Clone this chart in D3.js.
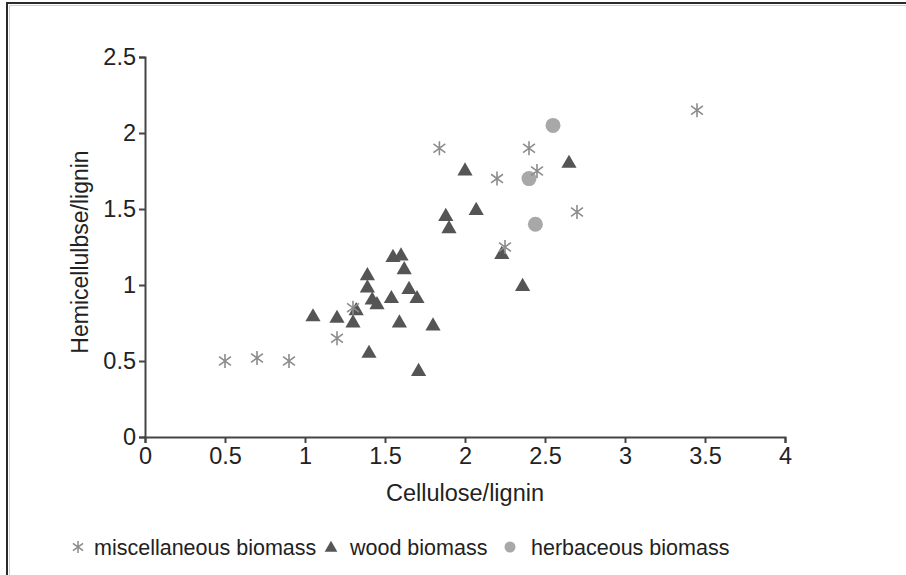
<!DOCTYPE html>
<html>
<head>
<meta charset="utf-8">
<script src="https://cdn.jsdelivr.net/npm/d3@7"></script>
<style>
  body { margin: 0; background: #fff; }
  svg text { font-family: "Liberation Sans", Arial, Helvetica, sans-serif; fill: #222; }
</style>
</head>
<body>
<div id="chart"></div>
<script>
// data: [cellulose/lignin, hemicellulose/lignin]
let miscBiomass = [
  [0.5, 0.5], [0.7, 0.52], [0.9, 0.5], [1.2, 0.65], [1.3, 0.85],
  [1.84, 1.9], [2.2, 1.7], [2.4, 1.9], [2.45, 1.75], [2.25, 1.25],
  [2.7, 1.48], [3.45, 2.15]
]
let woodBiomass = [
  [1.05, 0.79], [1.2, 0.78], [1.3, 0.75], [1.32, 0.83], [1.39, 1.06],
  [1.39, 0.98], [1.42, 0.9], [1.45, 0.87], [1.54, 0.91], [1.55, 1.18],
  [1.6, 1.19], [1.62, 1.1], [1.65, 0.97], [1.7, 0.91], [1.59, 0.75],
  [1.8, 0.73], [1.4, 0.55], [1.71, 0.43], [2.0, 1.75], [2.07, 1.49],
  [1.88, 1.45], [1.9, 1.37], [2.65, 1.8], [2.23, 1.2], [2.36, 0.99]
]
let herbaceousBiomass = [[2.55, 2.05], [2.4, 1.7], [2.44, 1.4]]

let xTicks = [0, 0.5, 1, 1.5, 2, 2.5, 3, 3.5, 4]
let yTicks = [0, 0.5, 1, 1.5, 2, 2.5]
let legendLabels = ['miscellaneous biomass', 'wood biomass', 'herbaceous biomass']

let totalWidth = 906
let totalHeight = 575
let margin = { top: 57, left: 145, right: 121, bottom: 138 }
let height = totalHeight - margin.top - margin.bottom
let width = totalWidth - margin.left - margin.right

let svgRoot = d3.select('#chart')
  .append('svg')
  .attr('width', totalWidth)
  .attr('height', totalHeight)

// frame around the figure
svgRoot.append('path')
  .attr('d', 'M7,575 L7,3 L906,3')
  .attr('fill', 'none')
  .attr('stroke', '#2b2b2b')
  .attr('stroke-width', 2)
svgRoot.append('path')
  .attr('d', 'M9.5,575 L9.5,5.5 L906,5.5')
  .attr('fill', 'none')
  .attr('stroke', '#d0d0d0')
  .attr('stroke-width', 1)

let svg = svgRoot.append('g')
  .attr('transform', `translate(${margin.left},${margin.top})`)

let xPositionScale = d3.scaleLinear().domain([0, 4]).range([0, width])
let yPositionScale = d3.scaleLinear().domain([0, 2.5]).range([height, 0])

// axes
let xAxis = d3.axisBottom(xPositionScale)
  .tickValues(xTicks)
  .tickFormat(d3.format('~g'))
  .tickSize(6)
  .tickSizeOuter(6)
let yAxis = d3.axisLeft(yPositionScale)
  .tickValues(yTicks)
  .tickFormat(d3.format('~g'))
  .tickSize(6)
  .tickSizeOuter(6)

let gx = svg.append('g')
  .attr('class', 'axis x-axis')
  .attr('transform', `translate(0,${height})`)
  .call(xAxis)
let gy = svg.append('g')
  .attr('class', 'axis y-axis')
  .call(yAxis)

svg.selectAll('.axis path, .axis line')
  .attr('stroke', '#444')
  .attr('stroke-width', 2)
svg.selectAll('.axis text')
  .attr('font-size', 23.5)
  .attr('fill', '#222')
gx.selectAll('text').attr('y', 9).attr('dy', '0.75em')
gy.selectAll('text').attr('x', -9)

// axis titles
svg.append('text')
  .text('Cellulose/lignin')
  .attr('x', width / 2)
  .attr('y', height + 64)
  .attr('text-anchor', 'middle')
  .attr('font-size', 23.5)

svg.append('text')
  .text('Hemicellulbse/lignin')
  .attr('transform', `translate(-57,${height / 2 + 5}) rotate(-90)`)
  .attr('text-anchor', 'middle')
  .attr('font-size', 23)

// marks
let asterisk = function(r) {
  let dx = r * 0.85
  let dy = r * 0.62
  return `M0,${-r}L0,${r}M${-dx},${-dy}L${dx},${dy}M${-dx},${dy}L${dx},${-dy}`
}
let triangle = d3.symbol().type(d3.symbolTriangle)

svg.selectAll('.wood')
  .data(woodBiomass)
  .enter()
  .append('path')
  .attr('class', 'wood')
  .attr('d', triangle.size(100))
  .attr('transform', d => `translate(${xPositionScale(d[0])},${yPositionScale(d[1])})`)
  .attr('fill', '#555')

svg.selectAll('.herb')
  .data(herbaceousBiomass)
  .enter()
  .append('circle')
  .attr('class', 'herb')
  .attr('cx', d => xPositionScale(d[0]))
  .attr('cy', d => yPositionScale(d[1]))
  .attr('r', 7.5)
  .attr('fill', '#a8a8a8')

svg.selectAll('.misc')
  .data(miscBiomass)
  .enter()
  .append('path')
  .attr('class', 'misc')
  .attr('d', asterisk(7))
  .attr('transform', d => `translate(${xPositionScale(d[0])},${yPositionScale(d[1])})`)
  .attr('fill', 'none')
  .attr('stroke', '#8c8c8c')
  .attr('stroke-width', 1.6)

// legend
let legend = svgRoot.append('g').attr('transform', 'translate(0,547)')

legend.append('path')
  .attr('d', asterisk(6))
  .attr('transform', 'translate(78,0)')
  .attr('fill', 'none')
  .attr('stroke', '#8c8c8c')
  .attr('stroke-width', 1.5)
legend.append('path')
  .attr('d', triangle.size(70))
  .attr('transform', 'translate(331,1)')
  .attr('fill', '#555')
legend.append('circle')
  .attr('cx', 510)
  .attr('cy', 0)
  .attr('r', 5.5)
  .attr('fill', '#a8a8a8')

let legendX = [94, 350, 531]
legend.selectAll('.legend-label')
  .data(legendLabels)
  .enter()
  .append('text')
  .attr('class', 'legend-label')
  .text(d => d)
  .attr('x', (d, i) => legendX[i])
  .attr('y', 0)
  .attr('dy', '0.35em')
  .attr('font-size', 21.5)
</script>
</body>
</html>
